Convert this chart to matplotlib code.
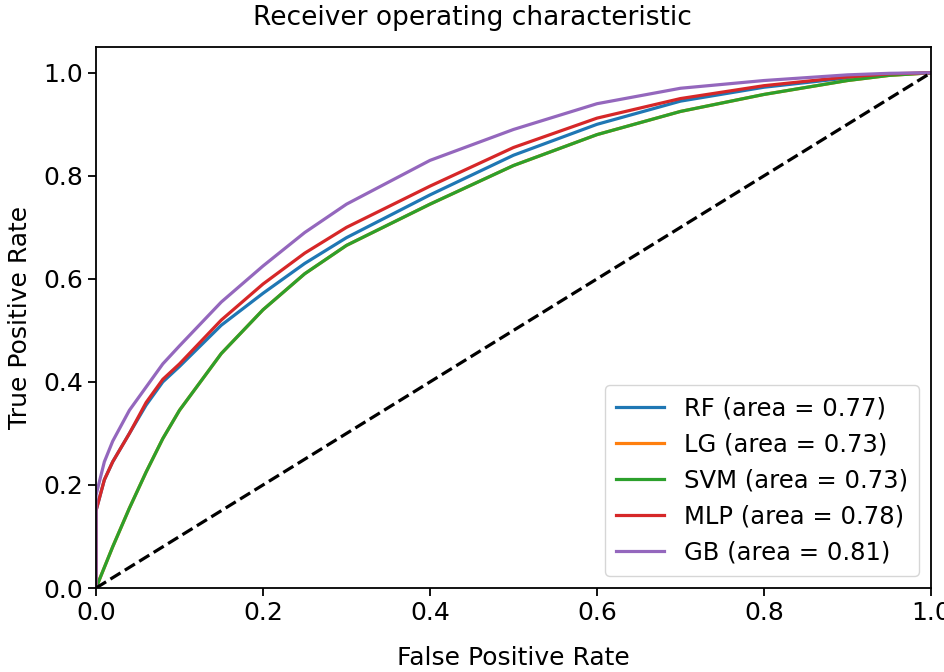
import matplotlib
matplotlib.use("Agg")
import matplotlib.pyplot as plt

# false positive rate grid shared by all curves
fpr = [0.0, 0.0, 0.01, 0.02, 0.04, 0.06, 0.08, 0.1, 0.15, 0.2, 0.25, 0.3,
       0.4, 0.5, 0.6, 0.7, 0.8, 0.9, 0.95, 1.0]

tpr_rf = [0.0, 0.15, 0.21, 0.245, 0.30, 0.355, 0.40, 0.43, 0.51, 0.572, 0.63, 0.68,
          0.763, 0.84, 0.90, 0.945, 0.972, 0.99, 0.997, 1.0]
tpr_lg = [0.0, 0.0, 0.04, 0.08, 0.155, 0.225, 0.29, 0.345, 0.455, 0.54, 0.61, 0.665,
          0.745, 0.82, 0.88, 0.925, 0.958, 0.985, 0.995, 1.0]
tpr_svm = [0.0, 0.0, 0.04, 0.08, 0.155, 0.225, 0.29, 0.345, 0.455, 0.54, 0.61, 0.665,
           0.745, 0.82, 0.88, 0.925, 0.958, 0.985, 0.995, 1.0]
tpr_mlp = [0.0, 0.15, 0.21, 0.245, 0.30, 0.36, 0.405, 0.435, 0.52, 0.59, 0.65, 0.70,
           0.78, 0.855, 0.912, 0.95, 0.975, 0.992, 0.998, 1.0]
tpr_gb = [0.0, 0.18, 0.245, 0.285, 0.345, 0.39, 0.435, 0.47, 0.555, 0.625, 0.69, 0.745,
          0.83, 0.89, 0.94, 0.97, 0.985, 0.996, 0.999, 1.0]

names = ["RF", "LG", "SVM", "MLP", "GB"]
aucs = [0.77, 0.73, 0.73, 0.78, 0.81]
curves = [tpr_rf, tpr_lg, tpr_svm, tpr_mlp, tpr_gb]

fig = plt.figure(figsize=(9.44, 6.72), dpi=100)
ax = fig.add_axes([0.1017, 0.125, 0.8845, 0.805])

for name, auc, tpr in zip(names, aucs, curves):
    ax.plot(fpr, tpr, lw=2.3, label="%s (area = %0.2f)" % (name, auc))
ax.plot([0, 1], [0, 1], color="black", lw=2.3, linestyle="--")

ax.set_xlim(0.0, 1.0)
ax.set_ylim(0.0, 1.05)
ax.set_xlabel("False Positive Rate", fontsize=18, labelpad=15)
ax.set_ylabel("True Positive Rate", fontsize=18, labelpad=8)
fig.text(0.5, 1 - 18 / 672, "Receiver operating characteristic",
         fontsize=19, ha="center", va="center")
ax.tick_params(labelsize=18, length=6, width=1.3)
for s in ax.spines.values():
    s.set_linewidth(1.3)

ax.legend(loc="lower right", fontsize=17.5, handlelength=2.0, borderpad=0.45)

fig.savefig("out.png", dpi=100)
